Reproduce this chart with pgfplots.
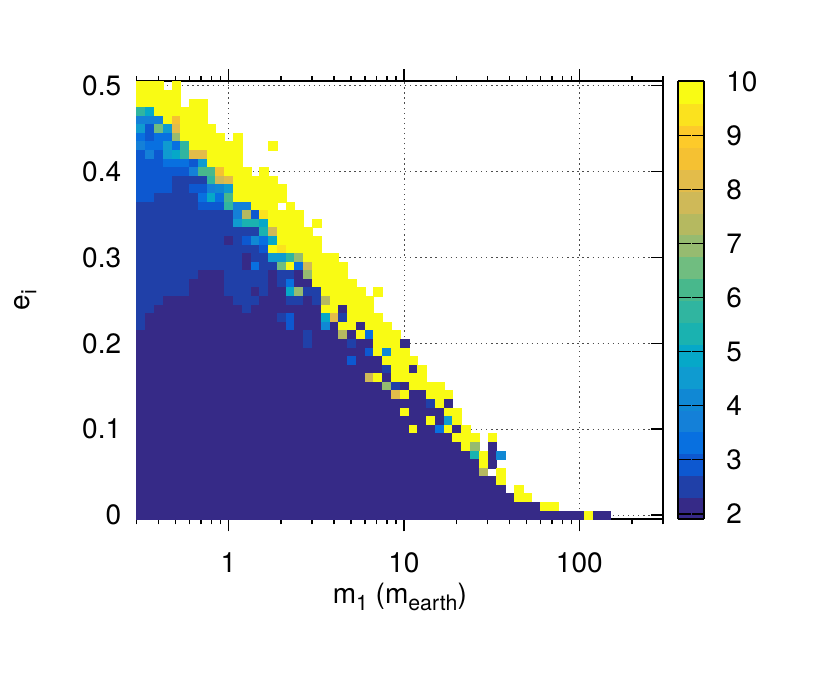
\documentclass[border=0pt]{standalone}
\usepackage{fontspec}
\setmainfont{TeX Gyre Heros}
\usepackage{pgfplots}
\usepackage{pgfplotstable}
\pgfplotsset{compat=1.18}

% one line per row of the map: e_i, then the value in each m_1 bin (0 = no value)
\pgfplotstableread[header=false]{
0.50  10 10 10 0 10 0 0 0 0 0  0 0 0 0 0 0 0 0 0 0  0 0 0 0 0 0 0 0 0 0  0 0 0 0 0 0 0 0 0 0  0 0 0 0 0 0 0 0 0 0  0 0 0 0
0.49  10 10 10 10 10 0 0 0 0 0  0 0 0 0 0 0 0 0 0 0  0 0 0 0 0 0 0 0 0 0  0 0 0 0 0 0 0 0 0 0  0 0 0 0 0 0 0 0 0 0  0 0 0 0
0.48  10 10 10 10 10 0 10 10 0 0  0 0 0 0 0 0 0 0 0 0  0 0 0 0 0 0 0 0 0 0  0 0 0 0 0 0 0 0 0 0  0 0 0 0 0 0 0 0 0 0  0 0 0 0
0.47  5.8 5 10 10 10 10 10 10 0 0  0 0 0 0 0 0 0 0 0 0  0 0 0 0 0 0 0 0 0 0  0 0 0 0 0 0 0 0 0 0  0 0 0 0 0 0 0 0 0 0  0 0 0 0
0.46  3.8 3.8 3.8 10 8.6 10 10 10 0 0  0 0 0 0 0 0 0 0 0 0  0 0 0 0 0 0 0 0 0 0  0 0 0 0 0 0 0 0 0 0  0 0 0 0 0 0 0 0 0 0  0 0 0 0
0.45  4.6 3 6.6 4.6 8.2 10 10 10 10 0  0 0 0 0 0 0 0 0 0 0  0 0 0 0 0 0 0 0 0 0  0 0 0 0 0 0 0 0 0 0  0 0 0 0 0 0 0 0 0 0  0 0 0 0
0.44  3.4 3 3.4 3.4 7 10 10 10 10 10  0 10 0 0 0 0 0 0 0 0  0 0 0 0 0 0 0 0 0 0  0 0 0 0 0 0 0 0 0 0  0 0 0 0 0 0 0 0 0 0  0 0 0 0
0.43  3.8 3.4 3.4 4.6 3.4 5.8 10 10 10 10  10 10 0 0 0 10 0 0 0 0  0 0 0 0 0 0 0 0 0 0  0 0 0 0 0 0 0 0 0 0  0 0 0 0 0 0 0 0 0 0  0 0 0 0
0.42  3 3.8 3 4.6 5 5.8 8.2 8.2 10 10  10 10 0 0 0 0 0 0 0 0  0 0 0 0 0 0 0 0 0 0  0 0 0 0 0 0 0 0 0 0  0 0 0 0 0 0 0 0 0 0  0 0 0 0
0.41  3 3 3 3.4 3.4 3.4 3 4.6 10 10  10 10 0 0 0 0 0 0 0 0  0 0 0 0 0 0 0 0 0 0  0 0 0 0 0 0 0 0 0 0  0 0 0 0 0 0 0 0 0 0  0 0 0 0
0.40  3 3 3 3 3 3 3.8 6.2 6.2 8.6  10 10 10 0 10 0 0 0 0 0  0 0 0 0 0 0 0 0 0 0  0 0 0 0 0 0 0 0 0 0  0 0 0 0 0 0 0 0 0 0  0 0 0 0
0.39  3 3 3 3 2.6 2.6 2.6 2.6 5.8 7.8  8.2 10 10 10 10 10 0 0 0 0  0 0 0 0 0 0 0 0 0 0  0 0 0 0 0 0 0 0 0 0  0 0 0 0 0 0 0 0 0 0  0 0 0 0
0.38  3 3 3 3 2.6 2.6 3 3 3.8 4.2  4.6 10 10 10 10 10 10 0 0 0  0 0 0 0 0 0 0 0 0 0  0 0 0 0 0 0 0 0 0 0  0 0 0 0 0 0 0 0 0 0  0 0 0 0
0.37  3 3 2.6 2.6 2.6 2.6 2.6 3.4 5 3.4  6.2 10 10 10 10 10 10 0 0 0  0 0 0 0 0 0 0 0 0 0  0 0 0 0 0 0 0 0 0 0  0 0 0 0 0 0 0 0 0 0  0 0 0 0
0.36  2.6 2.6 2.6 2.6 2.6 2.6 2.6 3 3 3  5.8 3.8 3.8 10 10 10 0 10 0 0  0 0 0 0 0 0 0 0 0 0  0 0 0 0 0 0 0 0 0 0  0 0 0 0 0 0 0 0 0 0  0 0 0 0
0.35  2.6 2.6 2.6 2.6 2.6 2.6 2.6 2.6 2.6 2.6  2.6 3.8 7.4 3 9.4 10 10 10 10 0  0 0 0 0 0 0 0 0 0 0  0 0 0 0 0 0 0 0 0 0  0 0 0 0 0 0 0 0 0 0  0 0 0 0
0.34  2.6 2.6 2.6 2.6 2.6 2.6 2.6 2.6 2.6 2.6  2.6 4.6 5.4 5.4 5 10 10 10 10 0  10 0 0 0 0 0 0 0 0 0  0 0 0 0 0 0 0 0 0 0  0 0 0 0 0 0 0 0 0 0  0 0 0 0
0.33  2.6 2.6 2.6 2.6 2.6 2.6 2.6 2.6 2.6 2.6  2.6 2.6 2.6 2.6 5.4 7.8 10 10 10 10  0 0 0 0 0 0 0 0 0 0  0 0 0 0 0 0 0 0 0 0  0 0 0 0 0 0 0 0 0 0  0 0 0 0
0.32  2.6 2.6 2.6 2.6 2.6 2.6 2.6 2.6 2.6 2.6  2 2.6 3 4.2 3.4 5 10 10 10 10  10 0 0 0 0 0 0 0 0 0  0 0 0 0 0 0 0 0 0 0  0 0 0 0 0 0 0 0 0 0  0 0 0 0
0.31  2.6 2.6 2.6 2.6 2.6 2.6 2.6 2.6 2.6 2.6  2.6 2.6 2.6 2.6 3 10 9.4 10 10 10  10 0 0 0 0 0 0 0 0 0  0 0 0 0 0 0 0 0 0 0  0 0 0 0 0 0 0 0 0 0  0 0 0 0
0.30  2.6 2.6 2.6 2.6 2.6 2.6 2.6 2.6 2.6 2.6  2.6 2.6 2 2.6 2.6 4.6 4.6 5.8 7 10  10 10 10 0 0 0 0 0 0 0  0 0 0 0 0 0 0 0 0 0  0 0 0 0 0 0 0 0 0 0  0 0 0 0
0.29  2.6 2.6 2.6 2.6 2.6 2.6 2.6 2.6 2.6 2.6  2.6 2.6 2 3.4 2.6 2.6 6.6 10 3.4 7.8  10 10 10 10 0 0 0 0 0 0  0 0 0 0 0 0 0 0 0 0  0 0 0 0 0 0 0 0 0 0  0 0 0 0
0.28  2.6 2.6 2.6 2.6 2.6 2.6 2.6 2 2 2  2.6 2.6 2.6 2.6 2.6 2 2.6 2.6 2 7  10 10 10 10 0 0 0 0 0 0  0 0 0 0 0 0 0 0 0 0  0 0 0 0 0 0 0 0 0 0  0 0 0 0
0.27  2.6 2.6 2.6 2.6 2.6 2.6 2 2 2 2  2.6 2.6 2.6 2.6 2.6 2 2.6 3.4 2 2  10 10 10 10 10 0 0 0 0 0  0 0 0 0 0 0 0 0 0 0  0 0 0 0 0 0 0 0 0 0  0 0 0 0
0.26  2.6 2.6 2.6 2.6 2.6 2.6 2 2 2 2  2.6 2.6 2.6 2 2.6 2 2 5 7 2.6  2.6 10 10 10 10 10 0 10 0 0  0 0 0 0 0 0 0 0 0 0  0 0 0 0 0 0 0 0 0 0  0 0 0 0
0.25  2.6 2.6 2.6 2 2 2 2 2 2 2  2 2.6 2.6 2.6 2 2 2 2.6 2.6 2  2.6 7.4 10 10 10 10 10 0 0 0  0 0 0 0 0 0 0 0 0 0  0 0 0 0 0 0 0 0 0 0  0 0 0 0
0.24  2.6 2.6 2 2 2 2 2 2 2 2  2 2 2.6 2 2 2 2 2 2 2  2 10 10 2 10 10 10 0 0 0  0 0 0 0 0 0 0 0 0 0  0 0 0 0 0 0 0 0 0 0  0 0 0 0
0.23  2.6 2 2 2 2 2 2 2 2 2  2 2 2 2 2 2 2.6 3 2 2  2 5 8.2 2.6 10 10 10 10 0 0  0 0 0 0 0 0 0 0 0 0  0 0 0 0 0 0 0 0 0 0  0 0 0 0
0.22  2.6 2 2 2 2 2 2 2 2 2  2 2 2 2 2 2 2 3 2 2  2 4.2 2 10 10 2 10 10 10 0  0 0 0 0 0 0 0 0 0 0  0 0 0 0 0 0 0 0 0 0  0 0 0 0
0.21  2 2 2 2 2 2 2 2 2 2  2 2 2 2 2 2 2 2 2 2.6  2 2 2 7.4 2 10 3.4 10 10 10  0 0 0 0 0 0 0 0 0 0  0 0 0 0 0 0 0 0 0 0  0 0 0 0
0.20  2 2 2 2 2 2 2 2 2 2  2 2 2 2 2 2 2 2 2 2.6  2 2 2 2 2.6 2 2 10 10 10  2 0 0 0 0 0 0 0 0 0  0 0 0 0 0 0 0 0 0 0  0 0 0 0
0.19  2 2 2 2 2 2 2 2 2 2  2 2 2 2 2 2 2 2 2 2  2 2 2 2 2 2 3 10 4.2 10  10 0 0 0 0 0 0 0 0 0  0 0 0 0 0 0 0 0 0 0  0 0 0 0
0.18  2 2 2 2 2 2 2 2 2 2  2 2 2 2 2 2 2 2 2 2  2 2 2 2 3 2 2 2 10 10  10 10 0 0 0 0 0 0 0 0  0 0 0 0 0 0 0 0 0 0  0 0 0 0
0.17  2 2 2 2 2 2 2 2 2 2  2 2 2 2 2 2 2 2 2 2  2 2 2 2 2 2 2 2 2.6 10  10 2 10 0 0 0 0 0 0 0  0 0 0 0 0 0 0 0 0 0  0 0 0 0
0.16  2 2 2 2 2 2 2 2 2 2  2 2 2 2 2 2 2 2 2 2  2 2 2 2 2 2 7.8 10 2 10  10 10 10 0 0 0 0 0 0 0  0 0 0 0 0 0 0 0 0 0  0 0 0 0
0.15  2 2 2 2 2 2 2 2 2 2  2 2 2 2 2 2 2 2 2 2  2 2 2 2 2 2 2 2 7 2.6  2 10 10 10 10 0 0 0 0 0  0 0 0 0 0 0 0 0 0 0  0 0 0 0
0.14  2 2 2 2 2 2 2 2 2 2  2 2 2 2 2 2 2 2 2 2  2 2 2 2 2 2 2 2 2 8.2  10 2 2 10 10 10 0 0 0 0  0 0 0 0 0 0 0 0 0 0  0 0 0 0
0.13  2 2 2 2 2 2 2 2 2 2  2 2 2 2 2 2 2 2 2 2  2 2 2 2 2 2 2 2 2 2  2 2 2 2.6 10 2 0 0 0 0  0 0 0 0 0 0 0 0 0 0  0 0 0 0
0.12  2 2 2 2 2 2 2 2 2 2  2 2 2 2 2 2 2 2 2 2  2 2 2 2 2 2 2 2 2 2  10 2 2 2 2 10 10 0 0 0  0 0 0 0 0 0 0 0 0 0  0 0 0 0
0.11  2 2 2 2 2 2 2 2 2 2  2 2 2 2 2 2 2 2 2 2  2 2 2 2 2 2 2 2 2 2  2 2 2 10 2 4.6 10 0 0 0  0 0 0 0 0 0 0 0 0 0  0 0 0 0
0.10  2 2 2 2 2 2 2 2 2 2  2 2 2 2 2 2 2 2 2 2  2 2 2 2 2 2 2 2 2 2  2 10 2 2 3.4 10 2 10 0 0  0 0 0 0 0 0 0 0 0 0  0 0 0 0
0.09  2 2 2 2 2 2 2 2 2 2  2 2 2 2 2 2 2 2 2 2  2 2 2 2 2 2 2 2 2 2  2 2 2 2 2 2 10 10 10 0  10 0 0 0 0 0 0 0 0 0  0 0 0 0
0.08  2 2 2 2 2 2 2 2 2 2  2 2 2 2 2 2 2 2 2 2  2 2 2 2 2 2 2 2 2 2  2 2 2 2 2 2 2 10 7 0  2 0 0 0 0 0 0 0 0 0  0 0 0 0
0.07  2 2 2 2 2 2 2 2 2 2  2 2 2 2 2 2 2 2 2 2  2 2 2 2 2 2 2 2 2 2  2 2 2 2 2 2 2 2 5.4 10  2 4.2 0 0 0 0 0 0 0 0  0 0 0 0
0.06  2 2 2 2 2 2 2 2 2 2  2 2 2 2 2 2 2 2 2 2  2 2 2 2 2 2 2 2 2 2  2 2 2 2 2 2 2 2 2 10  2 0 0 0 0 0 0 0 0 0  0 0 0 0
0.05  2 2 2 2 2 2 2 2 2 2  2 2 2 2 2 2 2 2 2 2  2 2 2 2 2 2 2 2 2 2  2 2 2 2 2 2 2 2 2 7.4  0 10 0 0 0 0 0 0 0 0  0 0 0 0
0.04  2 2 2 2 2 2 2 2 2 2  2 2 2 2 2 2 2 2 2 2  2 2 2 2 2 2 2 2 2 2  2 2 2 2 2 2 2 2 2 2  2 10 0 0 0 0 0 0 0 0  0 0 0 0
0.03  2 2 2 2 2 2 2 2 2 2  2 2 2 2 2 2 2 2 2 2  2 2 2 2 2 2 2 2 2 2  2 2 2 2 2 2 2 2 2 2  2 2 0 10 0 0 0 0 0 0  0 0 0 0
0.02  2 2 2 2 2 2 2 2 2 2  2 2 2 2 2 2 2 2 2 2  2 2 2 2 2 2 2 2 2 2  2 2 2 2 2 2 2 2 2 2  2 2 2 10 10 0 0 0 0 0  0 0 0 0
0.01  2 2 2 2 2 2 2 2 2 2  2 2 2 2 2 2 2 2 2 2  2 2 2 2 2 2 2 2 2 2  2 2 2 2 2 2 2 2 2 2  2 2 2 2 2 2 10 10 0 0  0 0 0 0
0.00  2 2 2 2 2 2 2 2 2 2  2 2 2 2 2 2 2 2 2 2  2 2 2 2 2 2 2 2 2 2  2 2 2 2 2 2 2 2 2 2  2 2 2 2 2 2 2 2 2 2  2 10 2 2
}\cells

\pgfdeclareplotmark{cell}{%
  \pgfpathrectangle{\pgfqpoint{-3.28pt}{-3.22pt}}{\pgfqpoint{6.56pt}{6.44pt}}%
  \pgfusepathqfillstroke}

\newcommand{\labelfont}{\fontsize{21}{25}\selectfont}
\newcommand{\low}[1]{\raisebox{-5pt}{\fontsize{16}{18}\selectfont #1}}

\begin{document}
\begin{tikzpicture}
\path[use as bounding box] (0,0) rectangle (622.5pt,524.25pt);
\begin{axis}[
  at={(102.4pt,134.8pt)}, anchor=south west,
  scale only axis, width=394.9pt, height=328.35pt,
  xmode=log, xmin=0.3, xmax=300,
  ymin=-0.005, ymax=0.505,
  /pgf/number format/assume math mode=true,
  xtick={1,10,100}, xticklabels={1,10,100},
  minor xtick={0.3,0.4,0.5,0.6,0.7,0.8,0.9,2,3,4,5,6,7,8,9,20,30,40,50,60,70,80,90,200,300},
  ytick={0,0.1,0.2,0.3,0.4,0.5},
  yticklabels={0,0.1,0.2,0.3,0.4,0.5},
  tick pos=both,
  xtick align=outside, ytick align=inside,
  major tick length=9pt, minor tick length=3.8pt,
  every tick/.style={black,line width=1.1pt},
  axis line style={line width=1.5pt},
  tick label style={font=\labelfont},
  label style={font=\labelfont},
  xticklabel style={yshift=-12.5pt},
  yticklabel style={xshift=-8pt},
  xlabel={m\low{1} (m\low{earth})},
  ylabel={e\low{i}},
  xlabel style={yshift=-1pt},
  ylabel style={yshift=27.5pt},
  grid=major,
  major grid style={black!70,line width=0.45pt,dash pattern=on 1pt off 2.8pt},
  axis on top,
  colormap={cells}{
    rgb255=(54,42,135) rgb255=(32,64,168) rgb255=(13,88,208) rgb255=(8,112,224)
    rgb255=(20,128,216) rgb255=(16,136,212) rgb255=(15,155,208) rgb255=(6,168,200)
    rgb255=(26,178,176) rgb255=(48,181,160) rgb255=(72,184,140) rgb255=(112,189,128)
    rgb255=(150,187,112) rgb255=(181,185,96) rgb255=(207,185,88) rgb255=(227,188,74)
    rgb255=(245,193,50) rgb255=(253,202,42) rgb255=(251,226,30) rgb255=(249,251,20)},
  colormap access=piecewise constant,
  point meta min=1.9, point meta max=10,
  colorbar sampled,
  colorbar shift/.style={xshift=10.7pt},
  colorbar style={
    width=19.5pt,
    samples=21,
    ytick={2,3,4,5,6,7,8,9,10},
    yticklabels={2,3,4,5,6,7,8,9,10},
    tick align=inside,
    ytick pos=both,
    yticklabel pos=right,
    major tick length=9.4pt,
    yticklabel style={xshift=13pt,font=\labelfont},
    every tick/.style={black,line width=1.1pt},
    axis line style={line width=1.5pt},
    /pgf/number format/assume math mode=true,
  },
]
\foreach \col/\m in {1/0.3178,2/0.3566,3/0.4001,4/0.4489,5/0.5037,6/0.5651,7/0.6341,8/0.7115,9/0.7983,10/0.8957,
  11/1.005,12/1.128,13/1.265,14/1.420,15/1.593,16/1.787,17/2.005,18/2.250,19/2.525,20/2.833,
  21/3.178,22/3.566,23/4.001,24/4.489,25/5.037,26/5.651,27/6.341,28/7.115,29/7.983,30/8.957,
  31/10.05,32/11.28,33/12.65,34/14.20,35/15.93,36/17.87,37/20.05,38/22.50,39/25.25,40/28.33,
  41/31.78,42/35.66,43/40.01,44/44.89,45/50.37,46/56.51,47/63.41,48/71.15,49/79.83,50/89.57,
  51/100.5,52/112.8,53/126.5,54/142.0}{
  \edef\cellplot{\noexpand\addplot[scatter, only marks, scatter src=explicit, mark=cell,
      scatter/use mapped color={draw=mapped color,fill=mapped color},
      line width=0.1pt]
    table[x expr=\m, y expr={\noexpand\thisrowno{\col}>0 ? \noexpand\thisrowno{0} : nan},
      meta index=\col] {\noexpand\cells};}
  \cellplot
}
\end{axis}
\end{tikzpicture}
\end{document}
